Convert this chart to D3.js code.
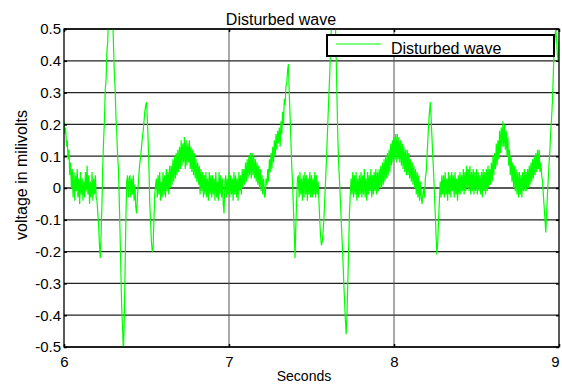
<!DOCTYPE html>
<html>
<head>
<meta charset="utf-8">
<script src="https://cdn.jsdelivr.net/npm/d3@7"></script>
<style>
  body { margin: 0; background: #fff; }
  text { font-family: Arial, "Liberation Sans", sans-serif; fill: #000; }
</style>
</head>
<body>
<div id="chart"></div>
<script>
const chartTitle = 'Disturbed wave';
const seriesName = 'Disturbed wave';
const xLabel = 'Seconds';
const yLabel = 'voltage in milivolts';
const xTicks = [6, 7, 8, 9];
const yTicks = [0.5, 0.4, 0.3, 0.2, 0.1, 0, -0.1, -0.2, -0.3, -0.4, -0.5];

// samples, one every 0.005 s starting at 6 s (one row = 0.1 s)
const tStart = 6;
const tStep = 0.005;
const voltage = [
  0.21, 0.17, 0.19, 0.13, 0.15, 0.09, 0.12, 0.04, 0.08, 0.00, 0.06, -0.03, 0.05, -0.04, 0.04, -0.01, 0.06, -0.03, 0.03, -0.05,
  0.05, -0.02, 0.03, -0.04, 0.02, -0.03, 0.05, -0.01, 0.07, -0.02, 0.04, -0.05, 0.02, -0.03, 0.05, -0.04, 0.03, -0.02, 0.04, -0.03,
  -0.04, -0.08, -0.12, -0.18, -0.22, -0.14, -0.05, 0.07, 0.15, 0.21, 0.31, 0.34, 0.43, 0.46, 0.55, 0.57, 0.60, 0.62, 0.58, 0.53,
  0.45, 0.36, 0.31, 0.22, 0.17, 0.10, 0.06, -0.04, -0.15, -0.27, -0.38, -0.44, -0.52, -0.42, -0.26, -0.10, 0.02, 0.04, -0.03, 0.03,
  0.04, -0.03, 0.03, -0.02, 0.04, -0.04, 0.01, -0.06, -0.08, -0.03, 0.01, 0.05, 0.08, 0.10, 0.13, 0.16, 0.18, 0.21, 0.24, 0.26,
  0.27, 0.22, 0.15, 0.06, -0.05, -0.11, -0.17, -0.20, -0.19, -0.10, -0.02, 0.01, 0.03, -0.03, 0.04, -0.02, 0.05, -0.04, 0.02, -0.03,
  0.05, -0.02, 0.04, -0.03, 0.06, -0.01, 0.05, -0.02, 0.07, 0.00, 0.07, 0.01, 0.09, 0.02, 0.10, 0.03, 0.11, 0.04, 0.12, 0.05,
  0.13, 0.06, 0.15, 0.07, 0.14, 0.08, 0.16, 0.06, 0.15, 0.07, 0.14, 0.08, 0.15, 0.06, 0.13, 0.05, 0.12, 0.04, 0.11, 0.03,
  0.09, 0.02, 0.08, 0.01, 0.07, -0.02, 0.06, -0.01, 0.05, -0.03, 0.04, -0.02, 0.05, -0.03, 0.03, -0.04, 0.05, -0.02, 0.04, -0.03,
  0.04, -0.02, 0.03, -0.04, 0.05, -0.03, 0.02, -0.04, 0.05, -0.02, 0.04, -0.03, 0.03, -0.05, -0.08, 0.02, 0.04, -0.03, 0.03, -0.02,
  0.05, -0.03, 0.04, -0.02, 0.03, -0.04, 0.05, -0.02, 0.04, -0.03, 0.03, -0.04, 0.05, -0.01, 0.04, -0.02, 0.06, 0.00, 0.06, 0.01,
  0.08, 0.02, 0.09, 0.03, 0.10, 0.04, 0.11, 0.03, 0.11, 0.04, 0.10, 0.03, 0.09, 0.02, 0.08, 0.01, 0.07, 0.00, 0.06, -0.01,
  0.04, -0.02, 0.03, -0.03, -0.02, 0.03, 0.01, 0.06, 0.02, 0.09, 0.05, 0.11, 0.06, 0.13, 0.08, 0.15, 0.10, 0.17, 0.12, 0.18,
  0.14, 0.19, 0.13, 0.21, 0.17, 0.24, 0.20, 0.28, 0.26, 0.32, 0.33, 0.37, 0.39, 0.30, 0.23, 0.15, 0.07, 0.02, -0.06, -0.13,
  -0.22, -0.12, -0.04, 0.03, 0.04, -0.03, 0.05, -0.02, 0.03, -0.04, 0.04, -0.03, 0.05, -0.02, 0.04, -0.04, 0.03, -0.02, 0.05, -0.03,
  0.04, -0.03, 0.03, -0.02, 0.05, -0.03, 0.04, -0.02, 0.02, -0.04, -0.10, -0.15, -0.18, -0.17, -0.14, -0.10, -0.04, 0.02, 0.08, 0.15,
  0.22, 0.29, 0.35, 0.43, 0.50, 0.55, 0.58, 0.60, 0.60, 0.52, 0.40, 0.27, 0.15, 0.07, 0.02, -0.04, -0.10, -0.16, -0.22, -0.29,
  -0.35, -0.41, -0.46, -0.40, -0.30, -0.19, -0.08, -0.02, 0.03, -0.02, 0.05, -0.03, 0.04, -0.02, 0.05, -0.04, 0.03, -0.03, 0.04, -0.02,
  0.05, -0.03, 0.04, -0.02, 0.06, -0.03, 0.03, -0.04, 0.05, -0.02, 0.04, -0.01, 0.06, -0.03, 0.04, -0.02, 0.05, -0.01, 0.06, -0.02,
  0.05, -0.01, 0.06, 0.00, 0.07, 0.00, 0.08, 0.01, 0.09, 0.02, 0.10, 0.03, 0.11, 0.04, 0.12, 0.05, 0.14, 0.07, 0.15, 0.08,
  0.16, 0.09, 0.17, 0.08, 0.17, 0.09, 0.16, 0.08, 0.15, 0.07, 0.14, 0.06, 0.13, 0.05, 0.12, 0.04, 0.12, 0.04, 0.11, 0.03,
  0.09, 0.02, 0.08, 0.01, 0.07, 0.00, 0.06, -0.02, 0.05, -0.03, 0.04, -0.04, 0.02, -0.03, -0.05, -0.02, 0.00, -0.03, 0.03, 0.05,
  0.10, 0.15, 0.20, 0.24, 0.27, 0.22, 0.16, 0.10, 0.05, -0.02, -0.08, -0.15, -0.21, -0.17, -0.10, -0.04, 0.02, -0.03, 0.04, -0.02,
  0.04, -0.03, 0.05, -0.02, 0.03, -0.04, 0.05, -0.02, 0.04, -0.03, 0.05, -0.01, 0.04, -0.03, 0.05, -0.02, 0.03, -0.04, 0.04, -0.02,
  0.05, -0.02, 0.04, -0.01, 0.06, -0.02, 0.05, -0.01, 0.07, 0.00, 0.06, -0.01, 0.07, -0.02, 0.05, -0.01, 0.06, -0.02, 0.05, -0.01,
  0.06, -0.02, 0.05, -0.01, 0.04, -0.02, 0.05, -0.03, 0.06, -0.01, 0.05, -0.02, 0.06, -0.01, 0.07, 0.00, 0.06, 0.01, 0.08, 0.02,
  0.10, 0.04, 0.11, 0.06, 0.14, 0.07, 0.15, 0.09, 0.18, 0.11, 0.19, 0.13, 0.21, 0.13, 0.20, 0.12, 0.18, 0.10, 0.16, 0.07,
  0.12, 0.04, 0.10, 0.02, 0.08, 0.00, 0.07, -0.01, 0.06, -0.02, 0.05, -0.03, 0.05, -0.02, 0.04, -0.03, 0.05, -0.01, 0.06, -0.01,
  0.05, -0.01, 0.06, 0.00, 0.07, 0.01, 0.08, 0.02, 0.09, 0.03, 0.10, 0.04, 0.11, 0.05, 0.12, 0.06, 0.12, 0.05, 0.08, 0.04,
  0.02, -0.02, -0.06, -0.10, -0.14, -0.08, -0.02, 0.03, 0.08, 0.12, 0.18, 0.22, 0.27, 0.35, 0.43, 0.47, 0.50, 0.47, 0.42, 0.40,
  0.46
];

const width = 562;
const height = 385;
const margin = { top: 29, right: 3, bottom: 38, left: 64 };

const svg = d3.select('#chart')
  .append('svg')
  .attr('width', width)
  .attr('height', height);

const x = d3.scaleLinear()
  .domain([6, 9])
  .range([margin.left, width - margin.right]);

const y = d3.scaleLinear()
  .domain([-0.5, 0.5])
  .range([height - margin.bottom, margin.top]);

const fmt = (d) => String(Math.round(d * 10) / 10);

// grid
svg.append('g')
  .selectAll('line')
  .data(yTicks)
  .enter()
  .append('line')
    .attr('x1', x(6)).attr('x2', x(9))
    .attr('y1', (d) => y(d)).attr('y2', (d) => y(d))
    .attr('stroke', '#222')
    .attr('stroke-width', 1.3);

svg.append('g')
  .selectAll('line')
  .data(xTicks.slice(1, -1))
  .enter()
  .append('line')
    .attr('x1', (d) => x(d)).attr('x2', (d) => x(d))
    .attr('y1', y(0.5)).attr('y2', y(-0.5))
    .attr('stroke', '#555')
    .attr('stroke-width', 1);

// signal
svg.append('clipPath')
  .attr('id', 'plot-clip')
  .append('rect')
    .attr('x', x(6)).attr('y', y(0.5))
    .attr('width', x(9) - x(6)).attr('height', y(-0.5) - y(0.5));

const line = d3.line()
  .x((d, i) => x(tStart + i * tStep))
  .y((d) => y(d));

svg.append('path')
  .datum(voltage)
  .attr('clip-path', 'url(#plot-clip)')
  .attr('fill', 'none')
  .attr('stroke', '#00ff00')
  .attr('stroke-width', 1.2)
  .attr('d', line);

// axes, MATLAB style ticks pointing inwards
const xAxis = svg.append('g')
  .attr('transform', `translate(0,${y(-0.5)})`)
  .call(d3.axisBottom(x).tickValues(xTicks).tickFormat(fmt).tickSize(-3).tickPadding(9));

svg.append('g')
  .attr('transform', `translate(${x(6)},0)`)
  .call(d3.axisLeft(y).tickValues(yTicks).tickFormat(fmt).tickSize(-3).tickPadding(3));

svg.append('g')
  .attr('transform', `translate(${x(9)},0)`)
  .call(d3.axisRight(y).tickValues(yTicks).tickFormat('').tickSize(-3));

svg.append('g')
  .attr('transform', `translate(0,${y(0.5)})`)
  .call(d3.axisTop(x).tickValues(xTicks).tickFormat('').tickSize(-3));

svg.selectAll('.domain').remove();
svg.selectAll('.tick line').attr('stroke', '#000').attr('stroke-width', 1.5);
svg.selectAll('.tick text')
  .style('font-size', '15px')
  .style('font-family', 'Arial, "Liberation Sans", sans-serif')
  .attr('fill', '#000');

// keep the last label inside the figure
xAxis.selectAll('.tick text')
  .filter((d) => d === 9)
  .attr('text-anchor', 'end');

svg.append('rect')
  .attr('x', x(6)).attr('y', y(0.5))
  .attr('width', x(9) - x(6)).attr('height', y(-0.5) - y(0.5))
  .attr('fill', 'none')
  .attr('stroke', '#000')
  .attr('stroke-width', 1.3);

// legend
const legend = svg.append('g').attr('transform', 'translate(327,35)');
legend.append('rect')
  .attr('width', 227).attr('height', 21)
  .attr('fill', '#fff')
  .attr('stroke', '#000')
  .attr('stroke-width', 2);
legend.append('line')
  .attr('x1', 9).attr('x2', 54).attr('y1', 9).attr('y2', 9)
  .attr('stroke', '#00ff00').attr('stroke-width', 1);
legend.append('text')
  .attr('x', 64).attr('y', 19)
  .style('font-size', '16px')
  .text(seriesName);

// labels
svg.append('text')
  .attr('x', 281).attr('y', 25)
  .attr('text-anchor', 'middle')
  .style('font-size', '16px')
  .text(chartTitle);

svg.append('text')
  .attr('x', 304).attr('y', 381)
  .attr('text-anchor', 'middle')
  .style('font-size', '14px')
  .text(xLabel);

svg.append('text')
  .attr('transform', 'translate(27,175) rotate(-90)')
  .attr('text-anchor', 'middle')
  .style('font-size', '16px')
  .text(yLabel);
</script>
</body>
</html>
